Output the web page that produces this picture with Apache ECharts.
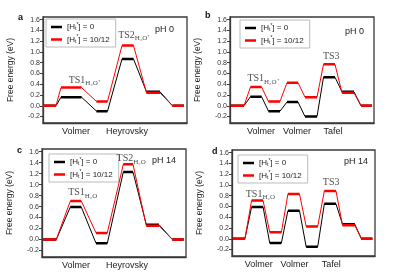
<!DOCTYPE html>
<html><head><meta charset="utf-8">
<script src="https://cdn.jsdelivr.net/npm/echarts@6/dist/echarts.min.js"></script>
<style>html,body{margin:0;padding:0;background:#fff}#c{width:399px;height:279px}</style>
</head><body><div id="c"></div>
<script>
// ---- shared ----
const yTicks = [-0.2, 0.0, 0.2, 0.4, 0.6, 0.8, 1.0, 1.2, 1.4, 1.6];
const seriesNames = ['h0', 'h1012'];
const legendMain = ['] = 0', '] = 10/12'];
const panelLetters = ['a', 'b', 'c', 'd'];
const phLabels = ['pH 0', 'pH 0', 'pH 14', 'pH 14'];

// ---- panel a (pH 0, Volmer-Heyrovsky) : start/end of each state along reaction coordinate ----
const aLevelX = [0, 13, 18, 38.5, 53.5, 64.5, 79, 90.5, 103.5, 117, 129.5, 141];
const aBlack = [0, 0.16, -0.10, 0.87, 0.26, 0];
const aRed = [0, 0.34, 0.08, 1.12, 0.24, 0];
const aSteps = ['Volmer', 'Heyrovsky'];
const aStepX = [33, 84];
const aNotes = [{level: 1, main: 'TS1', sub: 'H₃O⁺'}, {level: 3, main: 'TS2', sub: 'H₃O⁺'}];

// ---- panel b (pH 0, Volmer-Volmer-Tafel) ----
const bLevelX = [0.7, 14, 20.5, 31.5, 38.5, 50, 57, 68, 75, 87, 93.5, 105, 112, 124, 131, 142];
const bBlack = [0, 0.17, -0.10, 0.07, -0.20, 0.53, 0.26, 0];
const bRed = [0, 0.35, 0.08, 0.43, 0.16, 0.77, 0.24, 0];
const bSteps = ['Volmer', 'Volmer', 'Tafel'];
const bStepX = [31, 67, 103];
const bNotes = [{level: 1, main: 'TS1', sub: 'H₃O⁺'}, {level: 5, main: 'TS3', sub: ''}];

// ---- panel c (pH 14, Volmer-Heyrovsky) ----
const cLevelX = [1, 14.3, 28.3, 39.3, 54, 65.3, 81.3, 91, 104.3, 117, 130.3, 141.7];
const cBlack = [0, 0.59, -0.07, 1.23, 0.27, 0];
const cRed = [0, 0.70, 0.12, 1.37, 0.25, 0];
const cSteps = ['Volmer', 'Heyrovsky'];
const cStepX = [34, 85];
const cNotes = [{level: 1, main: 'TS1', sub: 'H₂O'}, {level: 3, main: 'TS2', sub: 'H₂O'}];

// ---- panel d (pH 14, Volmer-Volmer-Tafel) ----
const dLevelX = [0.7, 13, 19.7, 31.3, 38, 49.7, 56.3, 68, 74.7, 86.3, 93, 104.7, 111.3, 123.7, 130.3, 141.3];
const dBlack = [0, 0.59, -0.08, 0.52, -0.15, 0.65, 0.27, 0];
const dRed = [0, 0.71, 0.12, 0.83, 0.23, 0.89, 0.25, 0];
const dSteps = ['Volmer', 'Volmer', 'Tafel'];
const dStepX = [27, 63, 100];
const dNotes = [{level: 1, main: 'TS1', sub: 'H₂O'}, {level: 5, main: 'TS3', sub: ''}];

// ---- layout / style (not data) ----
const grids = [
  {left: 43, top: 17, width: 144, height: 106},
  {left: 230, top: 17, width: 144, height: 106},
  {left: 42, top: 149, width: 144, height: 108},
  {left: 232, top: 150, width: 143, height: 106}
];
const legendPos = [[46, 19], [240, 20], [49, 154], [238, 155]];
const letterPos = [[18, 13], [205, 11], [17, 146], [212, 147]];
const phPos = [[155, 25], [345, 27], [152, 156], [344, 157]];
const noteOffsets = [[[13, -7], [6, -10]], [[7, -8], [2, -7]], [[7, -8], [3, -5]], [[3, -6], [1, -8]]];

const panels = [
  {lx: aLevelX, k: aBlack, r: aRed, steps: aSteps, stepX: aStepX, notes: aNotes},
  {lx: bLevelX, k: bBlack, r: bRed, steps: bSteps, stepX: bStepX, notes: bNotes},
  {lx: cLevelX, k: cBlack, r: cRed, steps: cSteps, stepX: cStepX, notes: cNotes},
  {lx: dLevelX, k: dBlack, r: dRed, steps: dSteps, stepX: dStepX, notes: dNotes}
];

function pathData(lx, ys) {
  const out = [];
  ys.forEach((y, i) => { out.push([lx[2 * i], y]); out.push([lx[2 * i + 1], y]); });
  return out;
}
function flatData(lx, ys) {
  const out = [];
  ys.forEach((y, i) => {
    if (i) out.push([(lx[2 * i - 1] + lx[2 * i]) / 2, null]);
    out.push([lx[2 * i], y]); out.push([lx[2 * i + 1], y]);
  });
  return out;
}

const FRAME = '#3a3a3a';
const option = {
  animation: false,
  grid: [], xAxis: [], yAxis: [], series: [], legend: [], title: []
};

panels.forEach((p, i) => {
  option.grid.push(Object.assign({show: true, borderColor: FRAME, borderWidth: 1.3, containLabel: false}, grids[i]));
  option.xAxis.push({
    type: 'value', gridIndex: i, min: 0, max: 144,
    axisLine: {show: true, onZero: false, lineStyle: {color: FRAME, width: 1.3}},
    axisTick: {show: false}, splitLine: {show: false},
    axisLabel: {
      customValues: p.stepX, margin: 4, fontSize: 9, color: '#222', fontFamily: 'Liberation Sans',
      formatter: v => p.steps[p.stepX.indexOf(v)] || ''
    }
  });
  option.yAxis.push({
    type: 'value', gridIndex: i, min: -0.32, max: 1.65,
    name: 'Free energy (eV)', nameLocation: 'middle', nameGap: 28,
    nameTextStyle: {fontSize: 8.5, color: '#222', fontFamily: 'Liberation Sans'},
    axisLine: {show: true, onZero: false, lineStyle: {color: FRAME, width: 1.3}},
    axisTick: {show: true, customValues: yTicks, length: 3, lineStyle: {color: FRAME}},
    splitLine: {show: false},
    axisLabel: {customValues: yTicks, fontSize: 7, margin: 3, color: '#333', fontFamily: 'Liberation Sans',
      formatter: v => v.toFixed(1)}
  });
  const cols = ['#000000', '#ff0000'];
  [p.k, p.r].forEach((ys, s) => {
    option.series.push({
      type: 'line', name: seriesNames[s], xAxisIndex: i, yAxisIndex: i,
      data: pathData(p.lx, ys), symbol: 'none', silent: true, z: 2 + 2 * s,
      lineStyle: {color: cols[s], width: 1}, itemStyle: {color: cols[s]}
    });
    option.series.push({
      type: 'line', name: seriesNames[s], xAxisIndex: i, yAxisIndex: i,
      data: flatData(p.lx, ys), symbol: 'none', silent: true, connectNulls: false, z: 3 + 2 * s,
      lineStyle: {color: cols[s], width: 2.5}, itemStyle: {color: cols[s]}
    });
  });
  option.series.push({
    type: 'scatter', xAxisIndex: i, yAxisIndex: i, symbolSize: 0, silent: true, z: 10,
    data: p.notes.map((n, j) => ({
      value: [(p.lx[2 * n.level] + p.lx[2 * n.level + 1]) / 2, p.r[n.level]],
      main: n.main, sub: n.sub,
      label: {offset: noteOffsets[i][j]}
    })),
    label: {
      show: true, position: 'inside', align: 'center', verticalAlign: 'middle',
      formatter: prm => '{m|' + prm.data.main + '}' + (prm.data.sub ? '{s|' + prm.data.sub + '}' : ''),
      rich: {
        m: {fontFamily: 'Liberation Serif', fontSize: 10, color: '#222', lineHeight: 11, verticalAlign: 'top'},
        s: {fontFamily: 'Liberation Serif', fontSize: 7, color: '#222', lineHeight: 8, padding: [6, 0, 0, 0]}
      }
    }
  });
  option.legend.push({
    left: legendPos[i][0], top: legendPos[i][1], orient: 'vertical',
    data: seriesNames, icon: 'rect', itemWidth: 11, itemHeight: 2.5, itemGap: 3,
    padding: [3, 6, 3, 5], borderColor: '#bbb', borderWidth: 1, selectedMode: false,
    formatter: name => '{t|[H}{sb|t}{sp|*}{t|' + legendMain[seriesNames.indexOf(name)] + '}',
    textStyle: {
      fontSize: 8, color: '#222', fontFamily: 'Liberation Sans',
      rich: {
        t: {fontSize: 8, lineHeight: 10, fontFamily: 'Liberation Sans', color: '#222'},
        sb: {fontSize: 5, lineHeight: 6, padding: [4, 0, 0, 0], fontFamily: 'Liberation Sans', color: '#222'},
        sp: {fontSize: 5, lineHeight: 6, verticalAlign: 'top', padding: [0, 0, 3, 0], fontFamily: 'Liberation Sans', color: '#222'}
      }
    }
  });
  option.title.push({
    text: panelLetters[i], left: letterPos[i][0], top: letterPos[i][1], padding: 0,
    textStyle: {fontSize: 9, fontWeight: 'bold', color: '#111', fontFamily: 'Liberation Sans'}
  });
  option.title.push({
    text: phLabels[i], left: phPos[i][0], top: phPos[i][1], padding: 0,
    textStyle: {fontSize: 9, fontWeight: 'normal', color: '#222', fontFamily: 'Liberation Sans'}
  });
});

const chart = echarts.init(document.getElementById('c'), null, {renderer: 'canvas'});
chart.setOption(option);
</script>
</body></html>
